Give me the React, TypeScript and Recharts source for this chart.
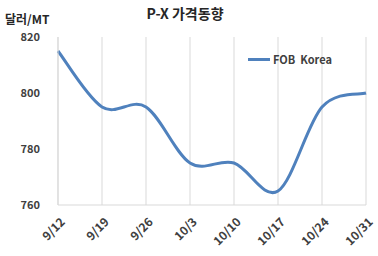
import React from "react";
import { LineChart, Line, XAxis, YAxis, CartesianGrid } from "recharts";

const categories = ["9/12", "9/19", "9/26", "10/3", "10/10", "10/17", "10/24", "10/31"];
const fobKorea = [815, 795, 795, 775, 775, 765, 795, 800];
const yTicks = [760, 780, 800, 820];

const data = categories.map((c, i) => ({ date: c, fob: fobKorea[i] }));

const FONT = "'Noto Sans CJK KR', 'Noto Sans', sans-serif";

// Catmull-Rom style smoothing similar to spreadsheet smoothed lines
function smoothCurve(context: any) {
  let pts: [number, number][] = [];
  return {
    areaStart() {},
    areaEnd() {},
    lineStart() {
      pts = [];
    },
    lineEnd() {
      if (!pts.length) return;
      context.moveTo(pts[0][0], pts[0][1]);
      for (let i = 0; i < pts.length - 1; i++) {
        const p0 = pts[Math.max(0, i - 1)];
        const p1 = pts[i];
        const p2 = pts[i + 1];
        const p3 = pts[Math.min(pts.length - 1, i + 2)];
        const c1x = p1[0] + (p2[0] - p0[0]) / 6;
        const c1y = p1[1] + (p2[1] - p0[1]) / 6;
        const c2x = p2[0] - (p3[0] - p1[0]) / 6;
        const c2y = p2[1] - (p3[1] - p1[1]) / 6;
        context.bezierCurveTo(c1x, c1y, c2x, c2y, p2[0], p2[1]);
      }
    },
    point(x: number, y: number) {
      pts.push([+x, +y]);
    },
  };
}

const XTick = (props: any) => {
  const { x, y, payload } = props;
  return (
    <g transform={`translate(${x + 5},${y + 7})`}>
      <text
        textAnchor="end"
        transform="rotate(-45)"
        fontFamily={FONT}
        fontWeight="bold"
        fontSize={12}
        fill="#404040"
        dy={4}
      >
        {payload.value}
      </text>
    </g>
  );
};

const YTick = (props: any) => {
  const { y, payload } = props;
  return (
    <text
      x={40}
      y={y}
      dy={4}
      textAnchor="end"
      fontFamily={FONT}
      fontWeight="bold"
      fontSize={11}
      fill="#404040"
    >
      {payload.value}
    </text>
  );
};

export default function App() {
  return (
    <div style={{ position: "absolute", left: 0, top: 0, width: 378, height: 256, background: "#fff" }}>
      <div
        style={{
          position: "absolute",
          left: 0,
          width: 378,
          top: 3,
          textAlign: "center",
          fontFamily: FONT,
          fontWeight: "bold",
          fontSize: 14,
          color: "#262626",
          marginLeft: -4,
        }}
      >
        P-X 가격동향
      </div>
      <div
        style={{
          position: "absolute",
          left: 5,
          top: 10,
          fontFamily: FONT,
          fontWeight: "bold",
          fontSize: 12,
          color: "#262626",
        }}
      >
        달러/MT
      </div>
      <div
        style={{
          position: "absolute",
          left: 248,
          top: 51,
          display: "flex",
          alignItems: "center",
          fontFamily: FONT,
          fontWeight: "bold",
          fontSize: 11,
          color: "#404040",
          zIndex: 2,
        }}
      >
        <div style={{ width: 22, height: 3, background: "#4F81BD", marginRight: 3 }} />
        <span style={{ whiteSpace: "pre" }}>FOB  Korea</span>
      </div>
      <LineChart
        width={378}
        height={256}
        data={data}
        margin={{ top: 37, right: 12, left: 0, bottom: 0 }}
      >
        <CartesianGrid horizontal={false} stroke="#d9d9d9" strokeWidth={1} />
        <XAxis
          dataKey="date"
          height={51}
          tick={<XTick />}
          tickLine={false}
          axisLine={{ stroke: "#d9d9d9" }}
          interval={0}
        />
        <YAxis
          width={58}
          domain={[760, 820]}
          ticks={yTicks}
          tick={<YTick />}
          tickLine={false}
          axisLine={{ stroke: "#d9d9d9" }}
        />
        <Line
          dataKey="fob"
          type={smoothCurve as any}
          stroke="#4F81BD"
          strokeWidth={3}
          dot={false}
          isAnimationActive={false}
          legendType="plainline"
        />
      </LineChart>
    </div>
  );
}
